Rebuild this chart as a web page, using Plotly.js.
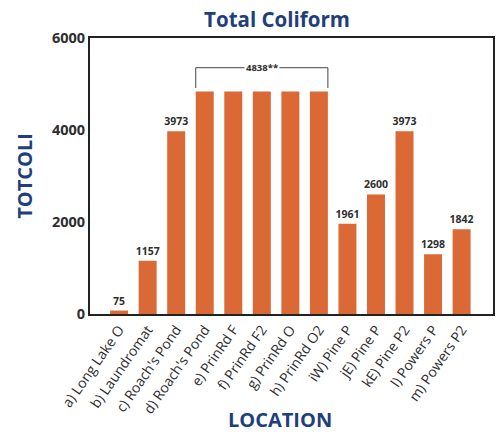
<!DOCTYPE html>
<html><head><meta charset="utf-8">
<script src="https://cdn.plot.ly/plotly-3.0.1.min.js"></script>
<style>html,body{margin:0;padding:0;background:#fff}#chart{width:498px;height:434px}</style>
</head><body><div id="chart"></div>
<script>
const categories = ["a) Long Lake O","b) Laundromat","c) Roach's Pond","d) Roach's Pond","e) PrinRd F","f) PrinRd F2","g) PrinRd O","h) PrinRd O2","iW) Pine P","jE) Pine P","kE) Pine P2","l) Powers P","m) Powers P2"];
const values = [75,1157,3973,4838,4838,4838,4838,4838,1961,2600,3973,1298,1842];
const barLabels = ["75","1157","3973","","","","","","1961","2600","3973","1298","1842"];
const groupLabel = "4838**";
const groupStart = 3, groupEnd = 7;
const yTicks = [0,2000,4000,6000];

const blue = "#1f3f7c", orange = "#da6936", grey = "#2e2e2e";
const font = "Open Sans, Lato, sans-serif";
const bw = 0.63;

const trace = {
  type: "bar", x: categories.map((c,i)=>i), y: values,
  text: barLabels, textposition: "outside", cliponaxis: false, constraintext: "none",
  textfont: {family: font, size: 10.5, color: grey, weight: "bold"},
  marker: {color: orange}, width: bw, hoverinfo: "none"
};
const yTop = 5354, yDrop = 4913;
// pixel helpers for placing titles relative to the plot area
const L = 90, R = 5, T = 38, B = 120, W = 498, H = 434;
const pw = W - L - R, ph = H - T - B;
const layout = {
  width: W, height: H,
  margin: {l: L, r: R, t: T, b: B},
  paper_bgcolor: "#fff", plot_bgcolor: "#fff",
  showlegend: false,
  uniformtext: {mode: "show", minsize: 10.5},
  title: {text: "<b>Total Coliform</b>", font: {family: font, size: 20.5, color: blue},
          x: (277 - L) / pw, xref: "paper", xanchor: "center", y: 1 - 20 / H, yref: "container", yanchor: "middle"},
  xaxis: {
    tickmode: "array", tickvals: categories.map((c,i)=>i), ticktext: categories,
    range: [-1.02, 13.1], tickangle: -55, showgrid: false, zeroline: false,
    showline: true, mirror: true, linecolor: "#222", linewidth: 2, ticks: "",
    tickfont: {family: font, size: 14, color: grey}
  },
  yaxis: {
    range: [0, 6000], tickvals: yTicks, showgrid: false, zeroline: false,
    showline: true, mirror: true, linecolor: "#222", linewidth: 2, ticks: "",
    tickfont: {family: font, size: 14.5, color: grey, weight: "bold"},
    title: {text: "<b>TOTCOLI</b>", font: {family: font, size: 20, color: blue}, standoff: 14}
  },
  shapes: [{
    type: "path", xref: "x", yref: "y",
    path: `M ${groupStart-bw/2},${yDrop} L ${groupStart-bw/2},${yTop} L ${groupEnd+bw/2},${yTop} L ${groupEnd+bw/2},${yDrop}`,
    line: {color: "#444", width: 1}
  }],
  annotations: [{
    x: (groupStart+groupEnd)/2, y: yTop, xref: "x", yref: "y", text: "<b>" + groupLabel + "</b>",
    showarrow: false, bgcolor: "#fff", font: {family: font, size: 9.5, color: grey}, borderpad: 1
  }, {
    x: (280 - L) / pw, y: (H - B - 419) / ph, xref: "paper", yref: "paper", xanchor: "center", yanchor: "middle",
    text: "<b>LOCATION</b>", showarrow: false, font: {family: font, size: 20, color: blue}
  }]
};
Plotly.newPlot("chart", [trace], layout, {displayModeBar: false, staticPlot: true});
</script></body></html>
